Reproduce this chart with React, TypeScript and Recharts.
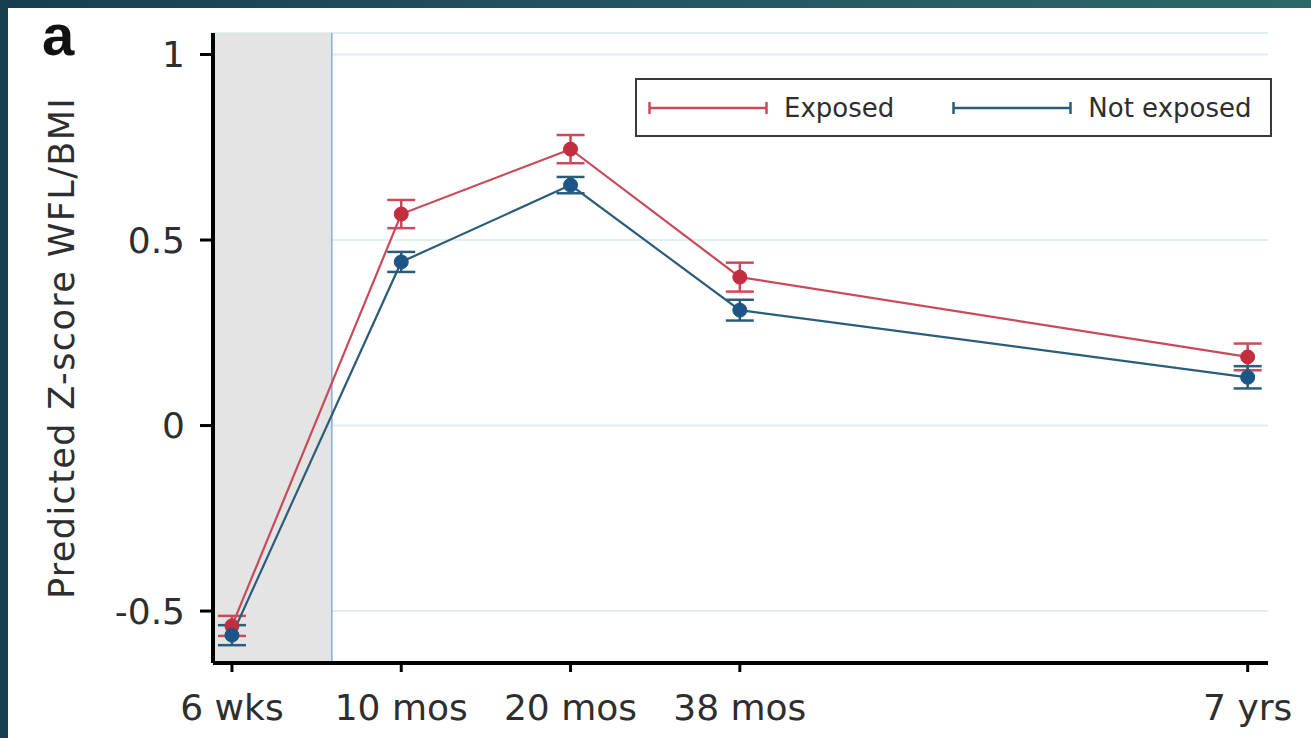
import React from 'react';
import {
  LineChart,
  Line,
  XAxis,
  YAxis,
  CartesianGrid,
  ErrorBar,
  ReferenceArea,
  ReferenceLine,
  Legend,
  Label,
} from 'recharts';

// ---- data ----
const xPositions = [0, 1, 2, 3, 6];
const xTickLabels = ['6 wks', '10 mos', '20 mos', '38 mos', '7 yrs'];
const exposedValues = [-0.54, 0.57, 0.745, 0.4, 0.185];
const exposedErrors = [0.027, 0.038, 0.038, 0.039, 0.036];
const notExposedValues = [-0.565, 0.441, 0.648, 0.311, 0.13];
const notExposedErrors = [0.027, 0.027, 0.022, 0.028, 0.03];
const yTicks = [-0.5, 0, 0.5, 1];
const shadeEnd = 0.59;

const RED_LINE = '#c94a5a';
const RED_DOT = '#c42d3f';
const BLUE_LINE = '#2a5d7a';
const BLUE_DOT = '#1b5686';
const TEXT = '#2e2e2e';
const FONT = '"DejaVu Sans", "Liberation Sans", Arial, sans-serif';

const data = xPositions.map((x, i) => ({
  x,
  exposed: exposedValues[i],
  exposedErr: exposedErrors[i],
  notExposed: notExposedValues[i],
  notExposedErr: notExposedErrors[i],
}));

const legendItems = [
  { label: 'Exposed', color: RED_LINE },
  { label: 'Not exposed', color: BLUE_LINE },
];

const renderLegend = () => (
  <div
    style={{
      boxSizing: 'border-box',
      width: 637,
      height: 59,
      border: '2px solid #3a3a3a',
      background: '#fff',
      display: 'flex',
      alignItems: 'center',
      paddingLeft: 11,
      fontFamily: FONT,
      fontSize: 26,
      color: TEXT,
    }}
  >
    {legendItems.map((it, i) => (
      <div
        key={it.label}
        style={{ display: 'flex', alignItems: 'center', marginRight: i === 0 ? 58 : 0 }}
      >
        <svg width={120} height={16} style={{ display: 'block' }}>
          <line x1={1} y1={8} x2={119} y2={8} stroke={it.color} strokeWidth={2.5} />
          <line x1={1.5} y1={2} x2={1.5} y2={14} stroke={it.color} strokeWidth={2.5} />
          <line x1={118.5} y1={2} x2={118.5} y2={14} stroke={it.color} strokeWidth={2.5} />
        </svg>
        <span style={{ marginLeft: 16 }}>{it.label}</span>
      </div>
    ))}
  </div>
);

export default function App() {
  return (
    <div
      style={{
        position: 'absolute',
        left: 0,
        top: 0,
        width: 1311,
        height: 738,
        background: '#ffffff',
        overflow: 'hidden',
      }}
    >
      <div style={{ position: 'absolute', left: 0, top: 0 }}>
        <LineChart
          width={1311}
          height={738}
          data={data}
          margin={{ top: 33, right: 43, bottom: 15, left: 63 }}
        >
          <ReferenceArea
            x1={-0.112}
            x2={shadeEnd}
            y1={-0.64}
            y2={1.058}
            fill="#e4e4e4"
            fillOpacity={1}
            stroke="none"
            ifOverflow="hidden"
          />
          <CartesianGrid vertical={false} stroke="#e2edf0" strokeWidth={2} />
          <ReferenceLine x={shadeEnd} stroke="#85aed3" strokeWidth={1.5} />
          <XAxis
            type="number"
            dataKey="x"
            domain={[-0.112, 6.12]}
            allowDataOverflow
            ticks={xPositions}
            interval={0}
            tickFormatter={(v: number) => xTickLabels[xPositions.indexOf(v)] ?? ''}
            height={60}
            tickSize={9}
            tickMargin={22}
            axisLine={{ stroke: '#000', strokeWidth: 4 }}
            tickLine={{ stroke: '#000', strokeWidth: 3 }}
            tick={{ fill: TEXT, fontSize: 36, fontFamily: FONT }}
          />
          <YAxis
            type="number"
            domain={[-0.64, 1.058]}
            allowDataOverflow
            ticks={yTicks}
            interval={0}
            tickFormatter={(v: number) => String(v)}
            width={150}
            tickSize={13}
            tickMargin={15}
            axisLine={{ stroke: '#000', strokeWidth: 4 }}
            tickLine={{ stroke: '#000', strokeWidth: 3 }}
            tick={{ fill: TEXT, fontSize: 36, fontFamily: FONT }}
          >
            <Label
              value="Predicted Z-score WFL/BMI"
              angle={-90}
              position="insideLeft"
              offset={-1}
              style={{
                textAnchor: 'middle',
                fill: TEXT,
                fontSize: 35,
                letterSpacing: '1.4px',
                fontFamily: FONT,
              }}
            />
          </YAxis>
          <Legend
            layout="vertical"
            verticalAlign="middle"
            align="center"
            content={renderLegend}
            wrapperStyle={{ left: 635, top: 78, width: 637, height: 59 }}
          />
          <Line
            type="linear"
            dataKey="exposed"
            name="Exposed"
            stroke={RED_LINE}
            strokeWidth={2.2}
            dot={{ r: 7, fill: RED_DOT, stroke: RED_DOT, strokeWidth: 1 }}
            isAnimationActive={false}
          >
            <ErrorBar dataKey="exposedErr" width={14} stroke={RED_LINE} strokeWidth={2.5} direction="y" />
          </Line>
          <Line
            type="linear"
            dataKey="notExposed"
            name="Not exposed"
            stroke={BLUE_LINE}
            strokeWidth={2.2}
            dot={{ r: 7, fill: BLUE_DOT, stroke: BLUE_DOT, strokeWidth: 1 }}
            isAnimationActive={false}
          >
            <ErrorBar dataKey="notExposedErr" width={14} stroke={BLUE_LINE} strokeWidth={2.5} direction="y" />
          </Line>
        </LineChart>
      </div>
      <div
        style={{
          position: 'absolute',
          left: 0,
          top: 0,
          width: 1311,
          height: 8,
          background: 'linear-gradient(90deg, #173e50 0%, #245562 50%, #2c6866 100%)',
        }}
      />
      <div
        style={{
          position: 'absolute',
          left: 0,
          top: 0,
          width: 8,
          height: 738,
          background: '#173f50',
        }}
      />
      <div
        style={{
          position: 'absolute',
          left: 42,
          top: 1,
          fontFamily: '"Liberation Sans", Arial, sans-serif',
          fontWeight: 'bold',
          fontSize: 58,
          lineHeight: 'normal',
          color: '#111',
        }}
      >
        a
      </div>
    </div>
  );
}
